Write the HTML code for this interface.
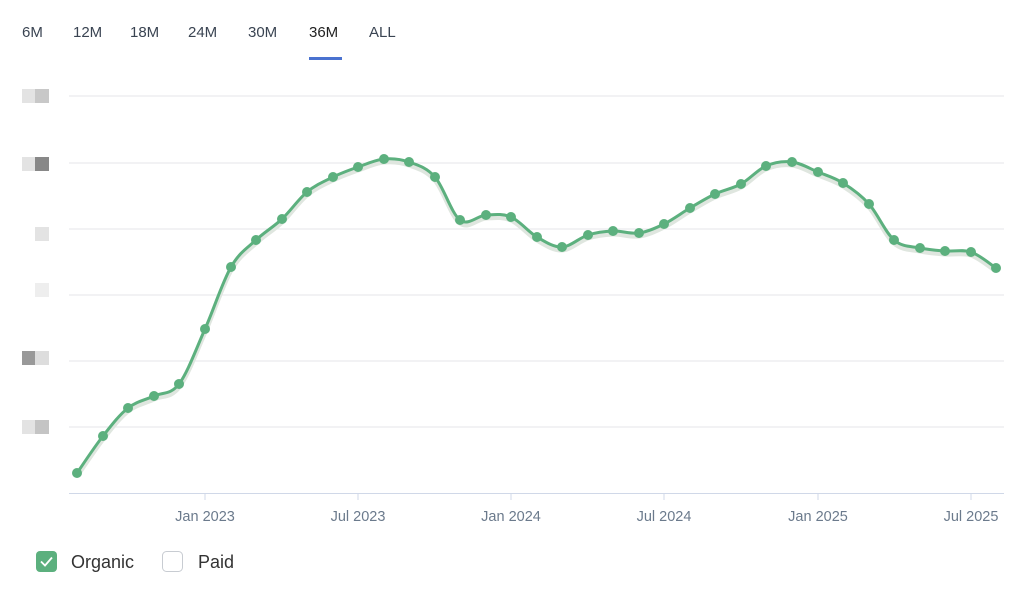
<!DOCTYPE html>
<html><head><meta charset="utf-8"><style>
body{margin:0;background:#fff;font-family:"Liberation Sans",sans-serif;}
.tabs span{position:absolute;top:24px;font-size:15px;color:#3a4452;}
</style></head><body>
<div style="position:relative;width:1024px;height:600px;overflow:hidden">
<div class="tabs">
<span style="left:22px">6M</span><span style="left:73px">12M</span><span style="left:130px">18M</span><span style="left:188px">24M</span><span style="left:248px">30M</span><span style="left:309px;color:#222">36M</span><span style="left:369px">ALL</span>
</div>
<div style="position:absolute;left:309px;top:57px;width:33px;height:3px;background:#4a72d0"></div>
<svg width="1024" height="600" style="position:absolute;left:0;top:0">
<g fill="#ddd">
<rect x="22" y="89" width="13" height="14" fill="#e3e3e3"/><rect x="35" y="89" width="14" height="14" fill="#c8c8c8"/>
<rect x="22" y="157" width="13" height="14" fill="#e3e3e3"/><rect x="35" y="157" width="14" height="14" fill="#888"/>
<rect x="35" y="227" width="14" height="14" fill="#e3e3e3"/>
<rect x="35" y="283" width="14" height="14" fill="#eee"/>
<rect x="22" y="351" width="13" height="14" fill="#999"/><rect x="35" y="351" width="14" height="14" fill="#ddd"/>
<rect x="22" y="420" width="13" height="14" fill="#e3e3e3"/><rect x="35" y="420" width="14" height="14" fill="#c4c4c4"/>
</g>
<g stroke="#e4e6ea" stroke-width="1">
<line x1="69" x2="1004" y1="96" y2="96"/><line x1="69" x2="1004" y1="163" y2="163"/><line x1="69" x2="1004" y1="229" y2="229"/><line x1="69" x2="1004" y1="295" y2="295"/><line x1="69" x2="1004" y1="361" y2="361"/><line x1="69" x2="1004" y1="427" y2="427"/>
</g>
<line x1="69" x2="1004" y1="493.5" y2="493.5" stroke="#d0d8e8"/>
<g stroke="#d0d8e8"><line x1="205" x2="205" y1="493" y2="500"/><line x1="358" x2="358" y1="493" y2="500"/><line x1="511" x2="511" y1="493" y2="500"/><line x1="664" x2="664" y1="493" y2="500"/><line x1="818" x2="818" y1="493" y2="500"/><line x1="971" x2="971" y1="493" y2="500"/></g>
<g font-size="14.5" fill="#6b7a8c" text-anchor="middle">
<text x="205" y="521">Jan 2023</text><text x="358" y="521">Jul 2023</text><text x="511" y="521">Jan 2024</text><text x="664" y="521">Jul 2024</text><text x="818" y="521">Jan 2025</text><text x="971" y="521">Jul 2025</text>
</g>
<g id="chart"></g>
<rect x="36" y="551" width="21" height="21" rx="4" fill="#5cb07e"/>
<path d="M41 561.5l4 4 7-8" stroke="#fff" stroke-width="1.8" fill="none"/>
<text x="71" y="568" font-size="18" fill="#333">Organic</text>
<rect x="162.5" y="551.5" width="20" height="20" rx="4" fill="#fff" stroke="#c8ccd2"/>
<text x="198" y="568" font-size="18" fill="#333">Paid</text>
</svg>
<script>
const xs=[77,103,128,154,179,205,231,256,282,307,333,358,384,409,435,460,486,511,537,562,588,613,639,664,690,715,741,766,792,818,843,869,894,920,945,971,996];
const ys=[473,436,408,396,384,329,267,240,219,192,177,167,159,162,177,220,215,217,237,247,235,231,233,224,208,194,184,166,162,172,183,204,240,248,251,252,268];
let d=`M${xs[0]} ${ys[0]}`;
for(let i=0;i<xs.length-1;i++){const p0=i?i-1:i,p3=i+2<xs.length?i+2:i+1;
const c1x=xs[i]+(xs[i+1]-xs[p0])/6,c1y=ys[i]+(ys[i+1]-ys[p0])/6,c2x=xs[i+1]-(xs[p3]-xs[i])/6,c2y=ys[i+1]-(ys[p3]-ys[i])/6;
d+=` C${c1x} ${c1y} ${c2x} ${c2y} ${xs[i+1]} ${ys[i+1]}`;}
let s=`<path d="${d}" transform="translate(0,3)" stroke="#dfe6df" stroke-width="5" fill="none"/><path d="${d}" stroke="#5cb07e" stroke-width="3" fill="none"/>`;
xs.forEach((x,i)=>s+=`<circle cx="${x}" cy="${ys[i]}" r="5" fill="#5cb07e"/>`);
document.getElementById('chart').innerHTML=s;
</script>
</div></body></html>
